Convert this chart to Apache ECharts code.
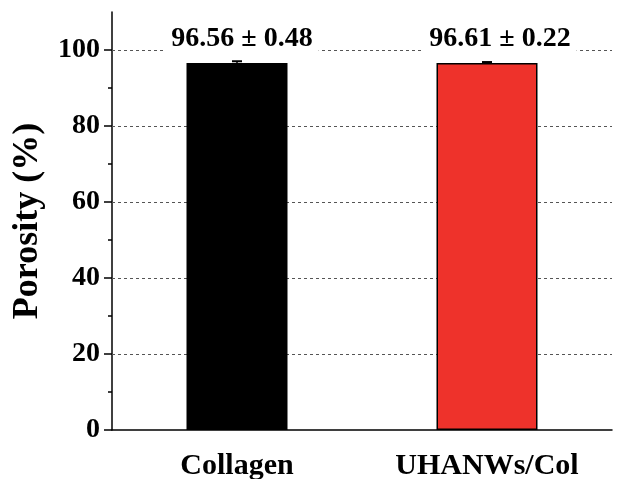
<!DOCTYPE html>
<html>
<head>
<meta charset="utf-8">
<script src="https://cdn.jsdelivr.net/npm/echarts@6/dist/echarts.min.js"></script>
<style>
html,body{margin:0;padding:0;background:#fff;}
#chart{width:620px;height:479px;}
</style>
</head>
<body>
<div id="chart"></div>
<script>
const categories = ['Collagen', 'UHANWs/Col'];
const porosity = [96.56, 96.61];
const errors = [0.48, 0.22];
const majorTicks = [0, 20, 40, 60, 80, 100];
const minorTicks = [10, 30, 50, 70, 90];
const barColors = ['#000000', '#EE322B'];

const FONT = '"Liberation Serif", "Times New Roman", serif';
const chart = echarts.init(document.getElementById('chart'));

const option = {
  animation: false,
  backgroundColor: '#fff',
  grid: { left: 112, right: 8, top: 12, bottom: 49, outerBoundsMode: 'none', containLabel: false },
  xAxis: {
    type: 'category',
    data: categories,
    axisLine: { lineStyle: { color: '#000', width: 1.5 } },
    axisTick: { alignWithLabel: true, length: 5, lineStyle: { color: '#000', width: 1.5 } },
    axisLabel: { color: '#000', fontFamily: FONT, fontWeight: 'bold', fontSize: 30, margin: 21 }
  },
  yAxis: [
    {
      type: 'value', min: 0, max: 110, interval: 20,
      name: 'Porosity (%)', nameLocation: 'middle', nameGap: 66,
      nameTextStyle: { color: '#000', fontFamily: FONT, fontWeight: 'bold', fontSize: 36 },
      axisLine: { show: true, lineStyle: { color: '#000', width: 1.5 } },
      axisTick: { show: true, length: 8, customValues: majorTicks, lineStyle: { color: '#000', width: 1.5 } },
      axisLabel: { customValues: majorTicks, color: '#000', fontFamily: FONT, fontWeight: 'bold', fontSize: 28, margin: 12 },
      splitLine: { show: false }
    },
    {
      type: 'value', min: 0, max: 110, position: 'left',
      axisLine: { show: false },
      axisTick: { show: true, length: 4, customValues: minorTicks, lineStyle: { color: '#000', width: 1.5 } },
      axisLabel: { show: false },
      splitLine: { show: false }
    }
  ],
  series: [
    {
      type: 'bar',
      barWidth: 101,
      z: 2,
      data: porosity.map((v, i) => ({
        value: v,
        itemStyle: { color: barColors[i] },
        label: { offset: [i === 0 ? 5 : 13, 0] }
      })),
      itemStyle: { borderColor: '#000', borderWidth: 1.5 },
      label: {
        show: true, position: 'top', distance: 10,
        formatter: p => porosity[p.dataIndex].toFixed(2) + ' ± ' + errors[p.dataIndex].toFixed(2),
        color: '#000', fontFamily: FONT, fontWeight: 'bold', fontSize: 28,
        backgroundColor: '#fff', padding: [0, 6]
      },
      markLine: {
        silent: true, symbol: 'none', z: 1,
        label: { show: false },
        lineStyle: { color: '#555', type: [3, 3], width: 1 },
        data: majorTicks.filter(t => t > 0).map(t => ({ yAxis: t }))
      }
    },
    {
      type: 'custom',
      z: 3,
      data: porosity.map((v, i) => [i, v, errors[i]]),
      renderItem: (params, api) => {
        const base = api.coord([api.value(0), api.value(1)]);
        const top = api.coord([api.value(0), api.value(1) + api.value(2)]);
        const hw = 5;
        return {
          type: 'group',
          children: [
            { type: 'line', shape: { x1: base[0], y1: base[1], x2: top[0], y2: top[1] }, style: { stroke: '#000', lineWidth: 1.5 } },
            { type: 'line', shape: { x1: top[0] - hw, y1: top[1], x2: top[0] + hw, y2: top[1] }, style: { stroke: '#000', lineWidth: 2 } }
          ]
        };
      }
    }
  ]
};
chart.setOption(option);
</script>
</body>
</html>
